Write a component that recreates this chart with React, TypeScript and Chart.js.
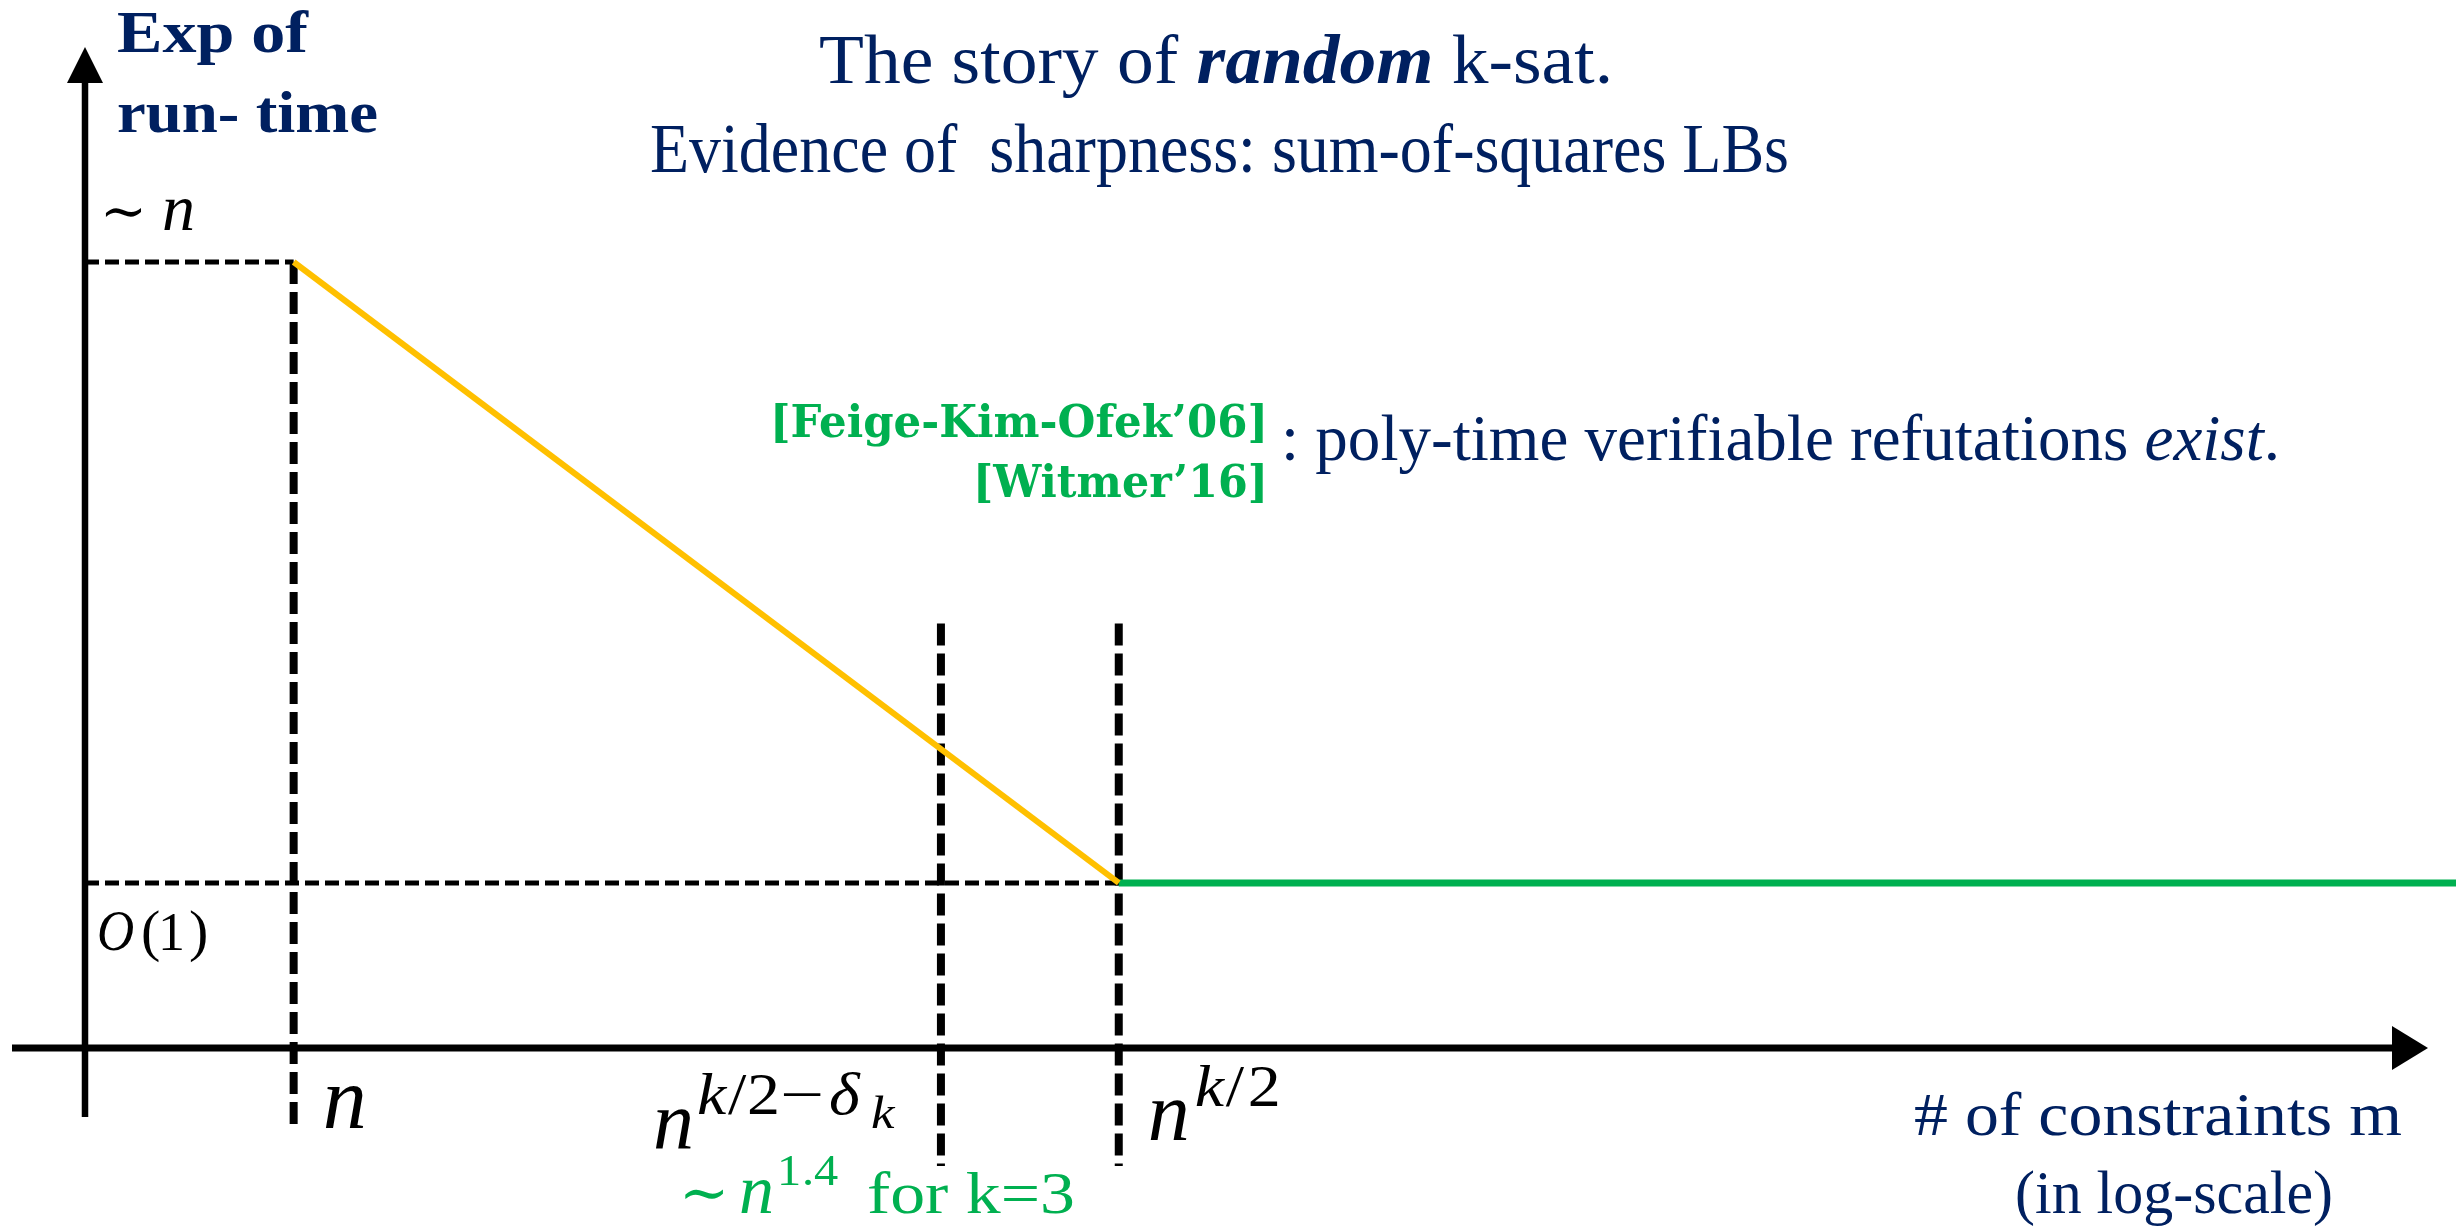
import React, { useEffect, useRef } from "react";
import { Chart, registerables } from "chart.js";

Chart.register(...registerables);

const NAVY = "#002060";
const GOLD = "#FFC000";
const GREEN = "#00B050";
const INK = "#000000";

const SERIF = "'Liberation Serif', 'DejaVu Serif', serif";
const SLAB = "'DejaVu Serif', serif";

// Positions along the constraint-count axis (log-scale, axis percent)
const xMarks = [8.8, 36.1, 43.6]; // n, n^{k/2-δk}, n^{k/2}
const xEnd = 100;
// Levels on the run-time exponent axis
const yLevels = [21, 100]; // O(1), ~n

// SoS lower bound: exponent drops from ~n at m = n to O(1) at m = n^{k/2}
const sosX = [xMarks[0], xMarks[2]];
const sosY = [yLevels[1], yLevels[0]];
// Beyond n^{k/2}: poly-time refutations
const easyX = [xMarks[2], xEnd];
const easyY = [yLevels[0], yLevels[0]];

// Vertical guide extents (top, bottom) for each mark on the m axis
const guideTop = [100, 54, 54];
const guideBottom = [-10, -15, -15];

type Run = { t: string; f: string; c?: string; dy?: number };
type Glyph = { t: string; f: string; dx: number; dy?: number; sx?: number };

// Flowing text, optionally squeezed/stretched to a given width
function drawRuns(
  ctx: CanvasRenderingContext2D,
  runs: Run[],
  x: number,
  baseline: number,
  width?: number,
  align: "left" | "right" = "left",
  color = INK
) {
  ctx.save();
  let total = 0;
  const widths = runs.map((r) => {
    ctx.font = r.f;
    const w = ctx.measureText(r.t).width;
    total += w;
    return w;
  });
  const sx = width ? width / total : 1;
  const x0 = align === "right" ? x - total * sx : x;
  ctx.translate(x0, baseline);
  ctx.scale(sx, 1);
  ctx.textBaseline = "alphabetic";
  ctx.textAlign = "left";
  let cx = 0;
  runs.forEach((r, i) => {
    ctx.font = r.f;
    ctx.fillStyle = r.c || color;
    ctx.fillText(r.t, cx, r.dy || 0);
    cx += widths[i];
  });
  ctx.restore();
}

// Math-style label: each glyph placed at its own offset from the anchor
function placeGlyphs(ctx: CanvasRenderingContext2D, glyphs: Glyph[], x: number, baseline: number, color = INK) {
  ctx.textBaseline = "alphabetic";
  ctx.textAlign = "left";
  glyphs.forEach((g) => {
    ctx.save();
    ctx.fillStyle = color;
    ctx.font = g.f;
    ctx.translate(x + g.dx, baseline + (g.dy || 0));
    ctx.scale(g.sx || 1, 1);
    ctx.fillText(g.t, 0, 0);
    ctx.restore();
  });
}

const pts = (xs: number[], ys: number[]) => xs.map((x, i) => ({ x, y: ys[i] }));

const decor = {
  id: "slideDecor",
  beforeDatasetsDraw(chart: any) {
    const { ctx, chartArea, scales } = chart;
    const x0 = scales.x.getPixelForValue(0);
    const y0 = scales.y.getPixelForValue(0);
    ctx.save();
    ctx.strokeStyle = INK;
    ctx.fillStyle = INK;
    ctx.lineWidth = 7;
    // horizontal axis with arrow
    const xTip = chartArea.right - 28;
    ctx.beginPath();
    ctx.moveTo(x0 - 73, y0);
    ctx.lineTo(xTip - 30, y0);
    ctx.stroke();
    ctx.beginPath();
    ctx.moveTo(xTip, y0);
    ctx.lineTo(xTip - 36, y0 - 22);
    ctx.lineTo(xTip - 36, y0 + 22);
    ctx.closePath();
    ctx.fill();
    // vertical axis with arrow
    ctx.lineWidth = 6.5;
    const yTip = chartArea.top - 215;
    ctx.beginPath();
    ctx.moveTo(x0, y0 + 69);
    ctx.lineTo(x0, yTip + 30);
    ctx.stroke();
    ctx.beginPath();
    ctx.moveTo(x0, yTip);
    ctx.lineTo(x0 - 18, yTip + 36);
    ctx.lineTo(x0 + 18, yTip + 36);
    ctx.closePath();
    ctx.fill();
    ctx.restore();
  },
  afterDraw(chart: any) {
    const { ctx, scales } = chart;
    const xs = scales.x;
    const ys = scales.y;
    const x0 = xs.getPixelForValue(0);
    const y0 = ys.getPixelForValue(0);
    const px = (v: number) => xs.getPixelForValue(v);
    const py = (v: number) => ys.getPixelForValue(v);
    const it = (s: number) => `italic ${s}px ${SERIF}`;
    const up = (s: number) => `${s}px ${SERIF}`;

    // titles
    drawRuns(
      ctx,
      [
        { t: "The story of ", f: up(70) },
        { t: "random", f: `italic bold 70px ${SERIF}` },
        { t: " k-sat.", f: up(70) },
      ],
      819,
      83,
      794,
      "left",
      NAVY
    );
    drawRuns(ctx, [{ t: "Evidence of  sharpness: sum-of-squares LBs", f: up(70) }], 650, 172, 1139, "left", NAVY);

    // y axis title
    drawRuns(ctx, [{ t: "Exp of", f: `bold 60px ${SERIF}` }], x0 + 32, 52, 191, "left", NAVY);
    drawRuns(ctx, [{ t: "run- time", f: `bold 60px ${SERIF}` }], x0 + 32, 132, 261, "left", NAVY);

    // y level labels
    placeGlyphs(
      ctx,
      [
        { t: "∼", f: up(56), dx: 0 },
        { t: "n", f: it(66), dx: 62 },
      ],
      x0 + 15,
      py(yLevels[1]) - 32
    );
    placeGlyphs(
      ctx,
      [
        { t: "O", f: it(56), dx: 0, sx: 0.92 },
        { t: "(", f: up(58), dx: 44 },
        { t: "1", f: up(54), dx: 61 },
        { t: ")", f: up(58), dx: 92 },
      ],
      x0 + 12,
      py(yLevels[0]) + 67
    );

    // x mark labels
    placeGlyphs(ctx, [{ t: "n", f: it(88), dx: 0 }], px(xMarks[0]) + 29, y0 + 80);
    placeGlyphs(
      ctx,
      [
        { t: "n", f: it(82), dx: 0 },
        { t: "k", f: it(60), dx: 44, dy: -34, sx: 1.1 },
        { t: "/", f: up(60), dx: 75, dy: -34, sx: 1.1 },
        { t: "2", f: up(60), dx: 94, dy: -34, sx: 1.1 },
        { t: "−", f: up(58), dx: 127, dy: -34, sx: 1.35 },
        { t: "δ", f: it(60), dx: 176, dy: -34, sx: 1.1 },
        { t: "k", f: it(46), dx: 218, dy: -20, sx: 1.15 },
      ],
      px(xMarks[1]) - 288,
      y0 + 100
    );
    placeGlyphs(
      ctx,
      [
        { t: "n", f: it(84), dx: 0 },
        { t: "k", f: it(60), dx: 47, dy: -34, sx: 1.1 },
        { t: "/", f: up(60), dx: 78, dy: -34, sx: 1.1 },
        { t: "2", f: up(60), dx: 100, dy: -34, sx: 1.1 },
      ],
      px(xMarks[2]) + 29,
      y0 + 92
    );
    placeGlyphs(
      ctx,
      [
        { t: "∼", f: up(60), dx: 0 },
        { t: "n", f: it(70), dx: 60 },
        { t: "1", f: up(44), dx: 98, dy: -28, sx: 1.1 },
        { t: ".", f: up(44), dx: 123, dy: -28, sx: 1.1 },
        { t: "4", f: up(44), dx: 135, dy: -28, sx: 1.1 },
      ],
      px(xMarks[1]) - 262,
      y0 + 165,
      GREEN
    );
    drawRuns(ctx, [{ t: "for k=3", f: up(60) }], px(xMarks[1]) - 74, y0 + 165, 208, "left", GREEN);

    // references
    drawRuns(ctx, [{ t: "[Feige-Kim-Ofek’06]", f: `bold 45px ${SLAB}` }], 1268, 437, 498, "right", GREEN);
    drawRuns(ctx, [{ t: "[Witmer’16]", f: `bold 45px ${SLAB}` }], 1268, 497, 295, "right", GREEN);
    drawRuns(
      ctx,
      [
        { t: ": poly-time verifiable refutations ", f: up(66) },
        { t: "exist", f: it(66) },
        { t: ".", f: up(66) },
      ],
      1281,
      460,
      999,
      "left",
      NAVY
    );

    // x axis title
    drawRuns(ctx, [{ t: "# of constraints m", f: up(62) }], 1914, y0 + 87, 488, "left", NAVY);
    drawRuns(ctx, [{ t: "(in log-scale)", f: up(62) }], 2015, y0 + 165, 318, "left", NAVY);
  },
};

export default function App() {
  const ref = useRef<HTMLCanvasElement>(null);

  useEffect(() => {
    if (!ref.current) return;
    const line = {
      pointRadius: 0,
      pointHoverRadius: 0,
      fill: false,
      tension: 0,
      clip: false as any,
      borderCapStyle: "butt" as const,
    };
    const datasets: any[] = [
      { ...line, label: "sos", data: pts(sosX, sosY), borderColor: GOLD, borderWidth: 6 },
      { ...line, label: "easy", data: pts(easyX, easyY), borderColor: GREEN, borderWidth: 7 },
      ...xMarks.map((x, i) => ({
        ...line,
        label: `guide${i}`,
        data: [
          { x, y: guideTop[i] },
          { x, y: guideBottom[i] },
        ],
        borderColor: INK,
        borderWidth: 8,
        borderDash: [22, 8],
      })),
      {
        ...line,
        label: "level-n",
        data: [
          { x: 0, y: yLevels[1] },
          { x: xMarks[0], y: yLevels[1] },
        ],
        borderColor: INK,
        borderWidth: 5,
        borderDash: [14, 6],
      },
      {
        ...line,
        label: "level-1",
        data: [
          { x: 0, y: yLevels[0] },
          { x: xMarks[2], y: yLevels[0] },
        ],
        borderColor: INK,
        borderWidth: 5,
        borderDash: [14, 6],
      },
    ];
    const chart = new Chart(ref.current, {
      type: "line",
      data: { datasets },
      options: {
        animation: false,
        responsive: false,
        devicePixelRatio: 1,
        events: [],
        layout: { padding: { left: 85, right: 0, top: 262, bottom: 181 } },
        plugins: { legend: { display: false }, tooltip: { enabled: false } },
        scales: {
          x: { type: "linear", min: 0, max: xEnd, display: false },
          y: { type: "linear", min: 0, max: 100, display: false },
        },
      },
      plugins: [decor],
    });
    return () => chart.destroy();
  }, []);

  return (
    <div style={{ position: "fixed", left: 0, top: 0, width: 2456, height: 1229, background: "#fff" }}>
      <canvas ref={ref} width={2456} height={1229} style={{ display: "block", width: 2456, height: 1229 }} />
    </div>
  );
}
